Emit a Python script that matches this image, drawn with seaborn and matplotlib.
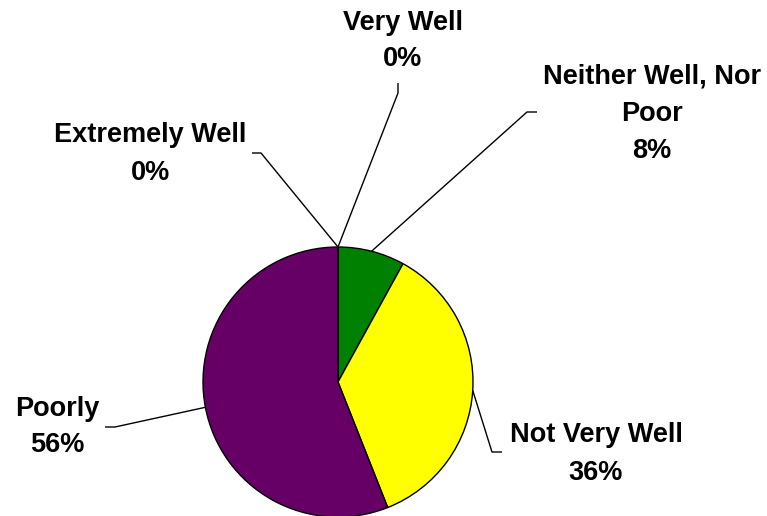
import numpy as np
import matplotlib
matplotlib.use("Agg")
import matplotlib.pyplot as plt
import seaborn as sns

# Survey responses (percent), in clockwise order from 12 o'clock
categories = ["Extremely Well", "Very Well", "Neither Well, Nor\nPoor", "Not Very Well", "Poorly"]
values = [0, 0, 8, 36, 56]
colors = ["#000080", "#FF00FF", "#008000", "#FFFF00", "#660066"]

sns.set_theme(style="white")
plt.rcParams["font.family"] = ["Liberation Sans", "DejaVu Sans"]

W, H = 767, 516
fig = plt.figure(figsize=(W / 100, H / 100), dpi=100)
ax = fig.add_axes([0, 0, 1, 1])

cx, cy, r = 338, H - 382, 135
wedges, _ = ax.pie(values, colors=colors, startangle=90, counterclock=False,
                   center=(cx, cy), radius=r,
                   wedgeprops=dict(edgecolor="black", linewidth=1.0))
ax.set_xlim(0, W)
ax.set_ylim(0, H)
ax.set_aspect("equal")
ax.axis("off")

# label placement: (text centre, elbow point, end point) in pixel space (y down)
layout = [
    ((150, 154), (261, 153), (252, 153)),
    ((403, 41), (398, 93), (398, 83)),
    ((652, 114), (527, 112), (537, 112)),
    ((596, 454), (492, 452), (502, 452)),
    ((57, 427), (115, 427), (105, 427)),
]

for w, cat, val, (tpos, elbow, end) in zip(wedges, categories, values, layout):
    ang = np.deg2rad((w.theta1 + w.theta2) / 2)
    ax_, ay_ = cx + r * np.cos(ang), cy + r * np.sin(ang)
    ex, ey = elbow[0], H - elbow[1]
    fx, fy = end[0], H - end[1]
    ax.plot([ax_, ex, fx], [ay_, ey, fy], color="black", lw=1.0, solid_capstyle="butt")
    ax.text(tpos[0], H - tpos[1], f"{cat}\n{val}%", ha="center", va="center",
            fontsize=19.5, fontweight="bold", color="black", linespacing=1.55)

fig.savefig("out.png", dpi=100, facecolor="white")
